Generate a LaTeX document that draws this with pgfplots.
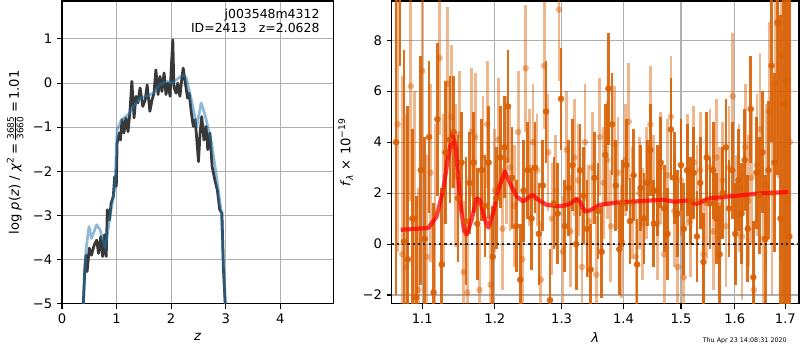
\documentclass[border=0pt]{standalone}
\usepackage{pgfplots}
\pgfplotsset{compat=1.18}
\usepackage{pgfplotstable}
\usepackage{fontspec}
\setmainfont{DejaVu Sans}
\definecolor{dor}{RGB}{217,95,2}
\definecolor{tabblue}{RGB}{31,119,180}
\definecolor{gridc}{RGB}{176,176,176}

\pgfplotstableread{
x y e
1.066 4.0 6.0
1.071 14.0 7.0
1.076 0.1 7.5
1.081 -0.6 6.0
1.087 1.0 3.5
1.092 -2.1 4.0
1.098 2.9 4.5
1.103 0.2 4.0
1.109 4.2 3.0
1.115 -1.9 3.5
1.120 4.9 3.0
1.126 -0.8 3.0
1.131 3.6 2.8
1.137 4.1 2.5
1.142 4.4 2.2
1.148 1.8 2.5
1.153 3.2 2.0
1.159 0.9 2.5
1.164 2.4 2.0
1.170 3.2 2.0
1.175 0.8 2.2
1.181 2.9 2.0
1.186 1.5 2.0
1.191 3.2 2.2
1.197 -0.5 2.0
1.202 1.8 2.0
1.208 3.4 2.0
1.214 3.8 2.0
1.219 5.4 2.2
1.225 2.6 2.0
1.231 0.7 1.8
1.237 -1.4 2.2
1.242 2.1 2.0
1.248 2.9 1.9
1.254 1.0 2.0
1.259 3.0 1.8
1.265 0.4 2.0
1.271 2.3 1.8
1.276 5.2 2.0
1.282 -2.2 2.0
1.288 1.6 1.8
1.294 1.2 2.0
1.299 5.7 2.0
1.305 0.7 1.8
1.311 2.2 1.9
1.317 3.1 1.8
1.323 0.0 1.8
1.329 2.9 1.8
1.334 1.9 1.9
1.340 0.6 1.9
1.346 -1.0 1.8
1.352 2.6 1.8
1.358 1.3 1.9
1.364 -0.3 1.8
1.370 3.5 2.0
1.375 6.1 2.2
1.381 4.7 2.0
1.387 2.3 1.8
1.393 -0.2 1.8
1.399 1.6 1.7
1.405 3.1 1.8
1.411 0.9 1.7
1.417 2.7 1.8
1.423 -0.8 1.8
1.429 2.2 1.7
1.435 1.0 1.8
1.441 2.4 1.7
1.446 3.7 1.8
1.452 0.8 1.7
1.458 2.1 1.8
1.464 3.2 1.8
1.470 1.4 1.7
1.476 0.4 1.8
1.482 4.5 2.0
1.488 2.6 1.8
1.494 1.2 1.7
1.500 3.1 1.8
1.505 0.6 1.8
1.511 2.9 1.8
1.517 1.7 1.7
1.523 2.8 1.8
1.529 0.3 1.8
1.535 2.4 1.8
1.541 -0.7 1.9
1.547 3.4 1.8
1.553 1.6 1.8
1.559 2.9 1.9
1.565 1.0 1.8
1.571 -0.4 1.9
1.577 2.0 1.8
1.583 3.8 1.9
1.589 1.4 1.9
1.595 2.9 1.9
1.601 0.4 2.0
1.607 2.5 2.0
1.613 1.2 2.0
1.619 3.3 2.0
1.625 0.6 2.1
1.631 5.3 2.1
1.636 -1.3 2.2
1.642 2.8 2.2
1.648 1.9 2.3
1.654 3.6 2.4
1.660 0.2 2.5
1.666 2.9 2.7
1.672 7.0 3.0
1.678 3.2 3.5
1.684 8.7 6.0
1.690 1.0 8.0
1.696 5.5 9.0
1.702 6.4 10.0
1.708 0.3 12.0
}\darkdata

\pgfplotstableread{
x y e
1.068 4.7 5.0
1.074 -0.4 7.0
1.079 -0.9 6.0
1.085 6.2 4.5
1.090 1.0 5.0
1.095 -1.8 4.0
1.100 6.8 4.0
1.106 -0.5 4.0
1.111 2.8 3.5
1.117 1.2 3.5
1.123 7.3 3.0
1.128 2.1 3.0
1.134 6.3 3.0
1.139 5.0 2.8
1.145 2.7 2.8
1.150 4.3 2.5
1.156 -1.1 2.8
1.161 -1.9 2.5
1.167 4.4 2.5
1.172 4.2 2.5
1.178 -1.8 2.5
1.183 3.4 2.4
1.189 4.7 2.5
1.194 -1.6 2.5
1.200 2.1 2.4
1.205 4.1 2.4
1.211 0.6 2.4
1.217 3.3 2.5
1.222 3.0 2.5
1.228 1.5 2.4
1.234 4.4 2.4
1.240 -0.6 2.3
1.245 6.9 2.5
1.251 3.0 2.3
1.256 4.0 2.3
1.262 2.9 2.2
1.268 -1.4 2.3
1.273 7.0 2.5
1.279 3.6 2.3
1.285 1.0 2.2
1.291 2.1 2.2
1.296 9.2 2.8
1.302 -0.3 2.2
1.308 3.7 2.3
1.314 0.5 2.2
1.320 3.4 2.3
1.326 2.5 2.2
1.332 -0.9 2.3
1.337 4.0 2.3
1.343 0.9 2.2
1.349 3.0 2.2
1.355 -1.2 2.3
1.361 4.2 2.3
1.367 2.4 2.2
1.373 3.3 2.3
1.379 0.7 2.2
1.385 3.9 2.3
1.391 2.8 2.2
1.397 0.1 2.2
1.403 3.3 2.2
1.409 4.8 2.3
1.415 1.6 2.2
1.421 -0.5 2.2
1.427 2.0 2.2
1.433 0.8 2.2
1.439 2.4 2.2
1.446 4.7 2.3
1.452 2.1 2.2
1.458 0.8 2.2
1.464 3.0 2.2
1.470 -0.4 2.2
1.476 2.7 2.2
1.482 5.0 2.4
1.488 1.3 2.2
1.494 -0.9 2.3
1.500 2.5 2.2
1.505 -1.3 2.3
1.511 2.9 2.2
1.517 0.9 2.2
1.523 3.2 2.2
1.529 1.7 2.2
1.535 2.9 2.3
1.541 -0.4 2.2
1.547 1.6 2.2
1.553 3.0 2.3
1.559 0.5 2.3
1.565 3.4 2.3
1.571 1.5 2.3
1.577 2.5 2.3
1.583 0.7 2.4
1.589 3.0 2.4
1.596 5.8 2.5
1.602 1.1 2.4
1.608 2.2 2.5
1.614 0.3 2.5
1.620 3.8 2.5
1.626 1.7 2.6
1.632 2.6 2.6
1.637 -1.8 2.7
1.643 3.1 2.8
1.649 4.5 3.0
1.655 0.2 3.0
1.661 2.3 3.2
1.667 5.2 3.5
1.673 2.0 4.0
1.679 6.3 5.0
1.685 8.6 6.0
1.691 7.4 8.0
1.697 5.5 9.0
1.703 1.7 10.0
1.709 4.0 11.0
}\lightdata

\pgfplotstableread{
x y
1.072 0.56
1.108 0.63
1.119 1.08
1.128 2.13
1.1347 3.44
1.1408 4.35
1.1454 3.70
1.1508 1.74
1.1563 0.56
1.160 0.37
1.167 0.95
1.174 1.78
1.1787 1.74
1.1858 0.95
1.1906 0.65
1.1976 1.22
1.2048 2.13
1.2146 2.85
1.2218 2.39
1.2317 1.87
1.2415 1.67
1.2515 1.87
1.2555 1.93
1.264 1.74
1.2767 1.54
1.2973 1.48
1.3129 1.57
1.3234 1.78
1.3287 1.67
1.3367 1.28
1.3448 1.32
1.361 1.54
1.3885 1.63
1.4393 1.70
1.4682 1.74
1.4889 1.66
1.5099 1.71
1.5281 1.57
1.5527 1.80
1.5903 1.87
1.655 2.00
1.7055 2.04
}\modeldata

\pgfplotstableread{
z v
0.37 -5.6
0.39 -5.0
0.44 -3.78
0.495 -3.25
0.54 -3.52
0.635 -3.21
0.70 -3.33
0.79 -3.74
0.88 -3.03
0.97 -2.34
1.01 -1.06
1.09 -0.83
1.21 -0.72
1.31 -0.53
1.43 -0.34
1.55 -0.30
1.67 -0.23
1.79 -0.04
1.92 0.04
2.01 0.0
2.10 0.08
2.22 0.19
2.28 0.11
2.37 -0.38
2.47 -0.98
2.55 -0.45
2.62 -0.72
2.74 -1.36
2.83 -2.12
2.92 -2.95
2.99 -5.0
3.00 -5.6
}\bluedata

\pgfplotstableread{
z v
0.37 -5.6
0.39 -5.0
0.42 -4.16
0.44 -3.90
0.46 -4.27
0.50 -3.74
0.54 -3.90
0.59 -3.67
0.635 -3.56
0.67 -3.86
0.71 -3.48
0.745 -3.93
0.78 -3.44
0.81 -3.93
0.83 -2.87
0.87 -3.10
0.90 -2.72
0.94 -2.57
0.965 -2.12
0.995 -2.34
1.01 -1.36
1.05 -1.13
1.07 -1.29
1.10 -0.83
1.135 -1.13
1.17 -0.79
1.21 -1.10
1.245 -0.64
1.28 0.04
1.32 -0.79
1.355 -0.30
1.39 -0.45
1.43 -0.11
1.48 -0.53
1.525 -0.38
1.56 -0.04
1.61 -0.64
1.65 -0.38
1.685 -0.23
1.72 0.30
1.76 -0.26
1.795 0.15
1.83 -0.19
1.87 0.23
1.905 -0.26
1.94 0.0
1.98 -0.30
2.00 0.30
2.03 0.98
2.05 -0.08
2.09 -0.23
2.12 0.0
2.16 -0.30
2.20 0.15
2.22 0.34
2.26 0.0
2.30 -0.34
2.33 -0.23
2.37 -0.68
2.405 -0.98
2.44 -0.83
2.47 -1.29
2.50 -1.78
2.53 -1.13
2.56 -0.76
2.60 -1.29
2.64 -0.98
2.67 -1.51
2.71 -1.13
2.75 -1.89
2.80 -2.19
2.845 -2.42
2.89 -2.87
2.93 -2.95
2.955 -4.16
2.99 -5.0
3.00 -5.6
}\blackdata

\begin{document}
\begin{tikzpicture}
\useasboundingbox (0,0) rectangle (8in,3.5in);
\pgfplotsset{
  myax/.style={
    scale only axis,
    anchor=south west,
    axis line style={line width=0.8pt},
    tick style={black, line width=0.8pt},
    major tick length=3.5pt,
    tick align=outside,
    tick pos=left,
    grid=major,
    major grid style={gridc, line width=0.8pt},
    tick label style={font=\fontsize{9.5}{11}\selectfont},
    label style={font=\fontsize{9.5}{11}\selectfont},
    /pgf/number format/assume math mode=true,
    clip=true,
  }
}
% Left panel
\begin{axis}[myax,
  at={(0.62in,0.463in)},
  width=2.713in, height=3.027in,
  xmin=0, xmax=4.97, ymin=-5, ymax=1.86,
  xtick={0,1,2,3,4},
  xticklabels={0,1,2,3,4},
  ytick={-5,-4,-3,-2,-1,0,1},
  yticklabels={−5,−4,−3,−2,−1,0,1},
  xlabel={\textit{z}},
  ylabel={log \textit{p}(\textit{z}) / \textit{χ}\textsuperscript{2}\,=\,$\frac{\mbox{\fontsize{6.5}{7}\selectfont 3685}}{\mbox{\fontsize{6.5}{7}\selectfont 3660}}$\,=\,1.01},
]
\addplot[black!78, line width=2pt, line join=round] table[x=z,y=v] {\blackdata};
\addplot[tabblue, opacity=0.5, line width=2pt, line join=round] table[x=z,y=v] {\bluedata};
\node[anchor=north east, align=right, font=\fontsize{9}{10.5}\selectfont, inner sep=0pt] at (rel axis cs:0.95,0.975) {j003548m4312\\ID=2413\quad z=2.0628};
\end{axis}

% Right panel
\begin{axis}[myax,
  at={(3.917in,0.463in)},
  width=4.073in, height=3.027in,
  xmode=log,
  xmin=1.0604, xmax=1.728, ymin=-2.34, ymax=9.54,
  xtick={1.1,1.2,1.3,1.4,1.5,1.6,1.7},
  xticklabels={1.1,1.2,1.3,1.4,1.5,1.6,1.7},
  minor xtick={},
  ytick={-2,0,2,4,6,8},
  yticklabels={−2,0,2,4,6,8},
  xlabel={\textit{λ}},
  ylabel={\textit{f}\textsubscript{\textit{λ}} × 10\textsuperscript{−19}},
]
\addplot[dor, only marks, mark=*, mark size=2.4pt,
  mark options={fill=dor, draw=dor, draw opacity=0, fill opacity=0.45, line width=0pt},
  error bars/.cd, y dir=both, y explicit,
  error mark=none,
  error bar style={draw=dor, draw opacity=0.45, line width=2pt}]
  table[x=x, y=y, y error=e] {\lightdata};
\addplot[dor, only marks, mark=*, mark size=2.4pt,
  mark options={fill=dor, draw=dor, draw opacity=0, fill opacity=0.9, line width=0pt},
  error bars/.cd, y dir=both, y explicit,
  error mark=none,
  error bar style={draw=dor, draw opacity=0.9, line width=2pt}]
  table[x=x, y=y, y error=e] {\darkdata};
\addplot[black!85, line width=1.6pt, dash pattern=on 1.6pt off 2.2pt] coordinates {(1.0604,0) (1.728,0)};
\addplot[red, opacity=0.75, line width=3pt, line join=round] table[x=x,y=y] {\modeldata};
\end{axis}
\node[anchor=base east, font=\fontsize{4.6}{5}\selectfont, inner sep=0pt] at (7.87in,0.07in) {Thu Apr 23 14:08:31 2020};
\end{tikzpicture}
\end{document}
